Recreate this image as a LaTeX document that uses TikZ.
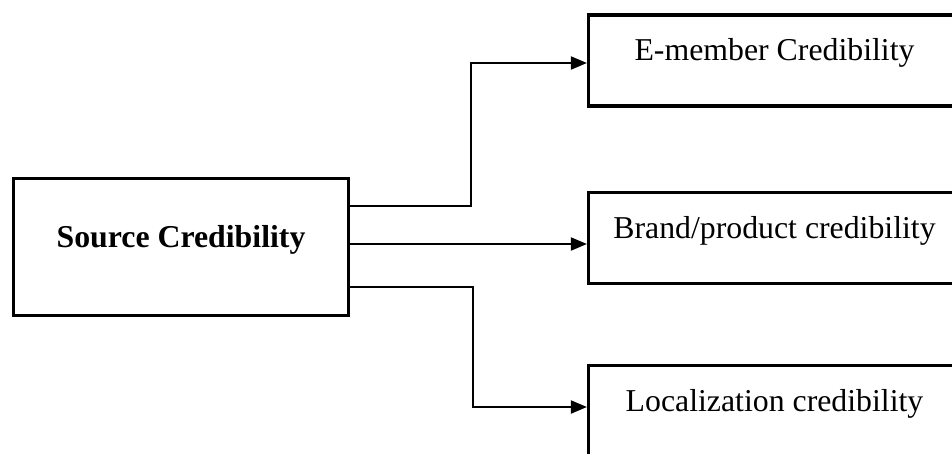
\documentclass[tikz,border=0pt]{standalone}
\usepackage{fontspec}
\setmainfont{Liberation Serif}
\usetikzlibrary{arrows.meta}

\begin{document}
\begin{tikzpicture}[x = 1pt, y = -1pt,
        font = \fontsize{31.8}{38}\selectfont,
        box/.style = {draw, line width = 3.2pt, inner sep = 0pt,
            text height = 22pt, text depth = 22pt},
        outbox/.style = {box, minimum width = 372pt, minimum height = 91pt},
        arrow/.style = {line width = 2pt, -{Triangle[length = 16pt, width = 13pt]}}]
        \useasboundingbox (0,0) rectangle (952,453);
        
        \node[box, minimum width = 335pt, minimum height = 137pt,
            font = \fontsize{31.8}{38}\selectfont\bfseries]
            (source) at (181,247) {Source Credibility};
        
        \node[outbox] (emember) at (774.5,60.5) {E-member Credibility};
        \node[outbox] (brand) at (774.5,238) {Brand/product credibility};
        \node[outbox] (local) at (774.5,411) {Localization credibility};
        
        \draw[arrow] 
        ([yshift = 41pt]source.east) -- ++(121,0)
        |- ([yshift = -2.5pt]emember.west);
        
        \draw[arrow] 
        ([yshift = 3pt]source.east) -- ([yshift = -6pt]brand.west);
        
        \draw[arrow] 
        ([yshift = -40pt]source.east) -- ++(123,0)
        |- ([yshift = 4pt]local.west);
    \end{tikzpicture}
\end{document}
